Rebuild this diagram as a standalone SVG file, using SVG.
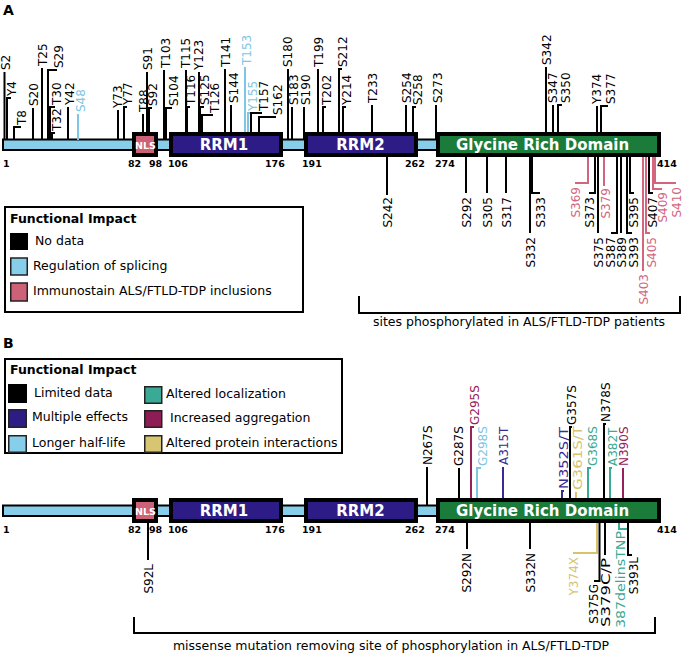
<svg xmlns="http://www.w3.org/2000/svg" width="688" height="654" viewBox="0 0 688 654">
<style>
text{font-family:"DejaVu Sans",Verdana,"Liberation Sans",sans-serif}
.s{font-size:12px}
.e{text-anchor:end}
.num{font-size:9.5px;font-weight:bold;fill:#000}
.dom{font-size:15px;font-weight:bold;fill:#fff;text-anchor:middle}
.nls{font-size:9.5px;font-weight:bold;fill:#fff;text-anchor:middle}
.lg{font-size:12.5px;fill:#000}
.lgt{font-size:12.5px;font-weight:bold;fill:#000}
.pan{font-size:14px;font-weight:bold;fill:#000}
.l{fill:none;stroke-width:2}
.lk{stroke:#000}.tk{fill:#000}
.lb{stroke:#7dc6e4}.tb{fill:#7dc6e4}
.lp{stroke:#d3667e}.tp{fill:#d3667e}
.lt{stroke:#3aa995}.tt{fill:#3aa995}
.lm{stroke:#962259}.tm{fill:#962259}
.ly{stroke:#d5c46c}.ty{fill:#d5c46c}
.ld{stroke:#3a2b90}.td{fill:#3a2b90}
.bar{fill:#87ceeb;stroke:#000;stroke-width:2}
.box{stroke:#000;stroke-width:4}
.sw{stroke:#222;stroke-width:1.5}
</style>
<rect width="688" height="654" fill="#fff"/>
<text class="pan" x="3" y="15">A</text>
<text class="pan" x="3" y="348">B</text>

<!-- Panel A protein -->
<g id="A-bar"><rect class="bar" x="3" y="139.5" width="436" height="10.5"/></g>

<g id="connectors">
<!-- A top -->
<path class="l lk" d="M4.5,140V72"/>
<path class="l lk" d="M7,140V98H11"/>
<path class="l lk" d="M14,140V127H21"/>
<path class="l lk" d="M33,140V108"/>
<path class="l lk" d="M42,140V68"/>
<path class="l lk" d="M48,140V70H57"/>
<path class="l lk" d="M50,140V107H55"/>
<path class="l lk" d="M52,140V133H55"/>
<path class="l lk" d="M68,140V107"/>
<path class="l lb" d="M78,140V114"/>
<path class="l lk" d="M118,140V110"/>
<path class="l lk" d="M124,140V107H127"/>
<path class="l lk" d="M143,140V114"/>
<path class="l lk" d="M147,140V72"/>
<path class="l lk" d="M149,140V108H152"/>
<path class="l lk" d="M164,140V70"/>
<path class="l lk" d="M166,140V108H172"/>
<path class="l lk" d="M186,140V70"/>
<path class="l lk" d="M187,140V107H190"/>
<path class="l lk" d="M199,140V72"/>
<path class="l lk" d="M200,140V107H204"/>
<path class="l lk" d="M202,140V115H213"/>
<path class="l lk" d="M225,140V69"/>
<path class="l lk" d="M231,140V105"/>
<path class="l lb" d="M245,140V67"/>
<path class="l lb" d="M248,140V113H251"/>
<path class="l lk" d="M251,140V113H262"/>
<path class="l lk" d="M259,140V117H276"/>
<path class="l lk" d="M288,140V69"/>
<path class="l lk" d="M292,140V107"/>
<path class="l lk" d="M304,140V107"/>
<path class="l lk" d="M318,140V69"/>
<path class="l lk" d="M323,140V107H326"/>
<path class="l lk" d="M339,140V69H342"/>
<path class="l lk" d="M343,140V107H346"/>
<path class="l lk" d="M372,140V105"/>
<path class="l lk" d="M406,140V105"/>
<path class="l lk" d="M413,140V107H416"/>
<path class="l lk" d="M436,140V105"/>
<path class="l lk" d="M546,140V67"/>
<path class="l lk" d="M553,140V105"/>
<path class="l lk" d="M558,140V105H562"/>
<path class="l lk" d="M597,140V106"/>
<path class="l lk" d="M601,140V106H608"/>
<!-- A bottom -->
<path class="l lk" d="M387,150V195"/>
<path class="l lk" d="M466,150V193"/>
<path class="l lk" d="M487,150V193"/>
<path class="l lk" d="M506,150V193"/>
<path class="l lk" d="M530,150V233"/>
<path class="l lk" d="M532,150V193H540"/>
<path class="l lp" d="M588,150V183H575"/>
<path class="l lk" d="M595,150V193H589"/>
<path class="l lk" d="M598,150V233"/>
<path class="l lp" d="M604,150V186"/>
<path class="l lk" d="M617,150V233H611"/>
<path class="l lk" d="M621,150V233"/>
<path class="l lk" d="M627,150V233H632"/>
<path class="l lk" d="M630,150V193H634"/>
<path class="l lp" d="M643,150V271"/>
<path class="l lp" d="M646,150V233H650"/>
<path class="l lk" d="M649,150V193H653"/>
<path class="l lp" d="M653,150V189H662"/>
<path class="l lp" d="M655,150V183H676"/>
<!-- B top -->
<path class="l lk" d="M427,506V467"/>
<path class="l lk" d="M459,506V468"/>
<path class="l lm" d="M471,506V427H474"/>
<path class="l lb" d="M477,506V468H481"/>
<path class="l ld" d="M503,506V467"/>
<path class="l ld" d="M562,506V491H564"/>
<path class="l lk" d="M570,506V427H572"/>
<path class="l ly" d="M576,506V492"/>
<path class="l lt" d="M588,506V468H591"/>
<path class="l lk" d="M604,506V424H606"/>
<path class="l lt" d="M610,506V468H612"/>
<path class="l lm" d="M623,506V468"/>
<!-- B bottom -->
<path class="l lk" d="M148,516V560"/>
<path class="l lk" d="M467,516V549"/>
<path class="l lk" d="M530,516V549"/>
<path class="l ly" d="M597,516V553H573"/>
<path class="l lk" d="M599.5,516V581H594"/>
<path class="l lk" d="M605,516V555"/>
<path class="l lt" d="M619,516V529H629"/>
<path class="l lk" d="M628,516V555H632"/>
</g>

<g id="A-NLS"><rect class="box" x="134" y="134" width="22" height="21" fill="#cd6178"/><text class="nls" x="145.5" y="148.5">NLS</text></g>
<g id="A-RRM1"><rect class="box" x="171" y="134" width="110" height="21" fill="#2e1c86"/><text class="dom" x="224" y="150">RRM1</text></g>
<g id="A-RRM2"><rect class="box" x="306" y="134" width="110" height="21" fill="#2e1c86"/><text class="dom" x="360.5" y="150">RRM2</text></g>
<g id="A-GRD"><rect class="box" x="438" y="134" width="221" height="21" fill="#1b7b3a"/><text class="dom" x="542.5" y="150">Glycine Rich Domain</text></g>

<g id="A-numbers">
<text class="num" x="3" y="167">1</text>
<text class="num" x="128" y="167">82</text>
<text class="num" x="149" y="167">98</text>
<text class="num" x="168" y="167">106</text>
<text class="num" x="265" y="167">176</text>
<text class="num" x="302" y="167">191</text>
<text class="num" x="405" y="167">262</text>
<text class="num" x="435" y="167">274</text>
<text class="num" x="657" y="167">414</text>
</g>

<g id="A-sites-top" class="s">
<g id="sA-S2"><text class="tk" transform="translate(9.5,70) rotate(-90)">S2</text></g>
<g id="sA-Y4"><text class="tk" transform="translate(15.5,96) rotate(-90)">Y4</text></g>
<g id="sA-T8"><text class="tk" transform="translate(25.5,125) rotate(-90)">T8</text></g>
<g id="sA-S20"><text class="tk" transform="translate(37.5,106) rotate(-90)">S20</text></g>
<g id="sA-T25"><text class="tk" transform="translate(46.5,66) rotate(-90)">T25</text></g>
<g id="sA-S29"><text class="tk" transform="translate(62.5,68) rotate(-90)">S29</text></g>
<g id="sA-T30"><text class="tk" transform="translate(60.5,105) rotate(-90)">T30</text></g>
<g id="sA-T32"><text class="tk" transform="translate(60.5,131) rotate(-90)">T32</text></g>
<g id="sA-Y42"><text class="tk" transform="translate(73.5,105) rotate(-90)">Y42</text></g>
<g id="sA-S48"><text class="tb" transform="translate(84.5,112) rotate(-90)">S48</text></g>
<g id="sA-Y73"><text class="tk" transform="translate(121.5,108) rotate(-90)">Y73</text></g>
<g id="sA-Y77"><text class="tk" transform="translate(131.5,105) rotate(-90)">Y77</text></g>
<g id="sA-T88"><text class="tk" transform="translate(147.5,112) rotate(-90)">T88</text></g>
<g id="sA-S91"><text class="tk" transform="translate(151.5,70) rotate(-90)">S91</text></g>
<g id="sA-S92"><text class="tk" transform="translate(156.5,106) rotate(-90)">S92</text></g>
<g id="sA-T103"><text class="tk" transform="translate(169.5,68) rotate(-90)">T103</text></g>
<g id="sA-S104"><text class="tk" transform="translate(177.5,106) rotate(-90)">S104</text></g>
<g id="sA-T115"><text class="tk" transform="translate(189.5,68) rotate(-90)">T115</text></g>
<g id="sA-T116"><text class="tk" transform="translate(194.5,105) rotate(-90)">T116</text></g>
<g id="sA-Y123"><text class="tk" transform="translate(202.5,70) rotate(-90)">Y123</text></g>
<g id="sA-S125"><text class="tk" transform="translate(208.5,105) rotate(-90)">S125</text></g>
<g id="sA-T126"><text class="tk" transform="translate(218.5,113) rotate(-90)">T126</text></g>
<g id="sA-T141"><text class="tk" transform="translate(229.5,67) rotate(-90)">T141</text></g>
<g id="sA-S144"><text class="tk" transform="translate(237.5,103) rotate(-90)">S144</text></g>
<g id="sA-T153"><text class="tb" transform="translate(250.5,65) rotate(-90)">T153</text></g>
<g id="sA-Y155"><text class="tb" transform="translate(256.5,111) rotate(-90)">Y155</text></g>
<g id="sA-T157"><text class="tk" transform="translate(267.5,111) rotate(-90)">T157</text></g>
<g id="sA-S162"><text class="tk" transform="translate(281.5,115) rotate(-90)">S162</text></g>
<g id="sA-S180"><text class="tk" transform="translate(291.5,67) rotate(-90)">S180</text></g>
<g id="sA-S183"><text class="tk" transform="translate(297.5,105) rotate(-90)">S183</text></g>
<g id="sA-S190"><text class="tk" transform="translate(309.5,105) rotate(-90)">S190</text></g>
<g id="sA-T199"><text class="tk" transform="translate(322.5,67) rotate(-90)">T199</text></g>
<g id="sA-T202"><text class="tk" transform="translate(330.5,105) rotate(-90)">T202</text></g>
<g id="sA-S212"><text class="tk" transform="translate(346.5,67) rotate(-90)">S212</text></g>
<g id="sA-Y214"><text class="tk" transform="translate(350.5,105) rotate(-90)">Y214</text></g>
<g id="sA-T233"><text class="tk" transform="translate(376.5,103) rotate(-90)">T233</text></g>
<g id="sA-S254"><text class="tk" transform="translate(410.5,103) rotate(-90)">S254</text></g>
<g id="sA-S258"><text class="tk" transform="translate(421.5,105) rotate(-90)">S258</text></g>
<g id="sA-S273"><text class="tk" transform="translate(441.5,103) rotate(-90)">S273</text></g>
<g id="sA-S342"><text class="tk" transform="translate(550.5,65) rotate(-90)">S342</text></g>
<g id="sA-S347"><text class="tk" transform="translate(556.5,103) rotate(-90)">S347</text></g>
<g id="sA-S350"><text class="tk" transform="translate(569.5,103) rotate(-90)">S350</text></g>
<g id="sA-Y374"><text class="tk" transform="translate(600.5,104) rotate(-90)">Y374</text></g>
<g id="sA-S377"><text class="tk" transform="translate(614.5,104) rotate(-90)">S377</text></g>
</g>

<g id="A-sites-bottom" class="s e">
<g id="sA-S242"><text class="tk" transform="translate(391.5,197) rotate(-90)">S242</text></g>
<g id="sA-S292"><text class="tk" transform="translate(470.5,197) rotate(-90)">S292</text></g>
<g id="sA-S305"><text class="tk" transform="translate(491.5,197) rotate(-90)">S305</text></g>
<g id="sA-S317"><text class="tk" transform="translate(510.5,197) rotate(-90)">S317</text></g>
<g id="sA-S332"><text class="tk" transform="translate(534.5,237) rotate(-90)">S332</text></g>
<g id="sA-S333"><text class="tk" transform="translate(544.5,197) rotate(-90)">S333</text></g>
<g id="sA-S369"><text class="tp" transform="translate(579.5,187) rotate(-90)">S369</text></g>
<g id="sA-S373"><text class="tk" transform="translate(593.5,197) rotate(-90)">S373</text></g>
<g id="sA-S375"><text class="tk" transform="translate(602.5,237) rotate(-90)">S375</text></g>
<g id="sA-S379"><text class="tp" transform="translate(609.5,188) rotate(-90)">S379</text></g>
<g id="sA-S387"><text class="tk" transform="translate(614.5,237) rotate(-90)">S387</text></g>
<g id="sA-S389"><text class="tk" transform="translate(625.5,237) rotate(-90)">S389</text></g>
<g id="sA-S393"><text class="tk" transform="translate(637.5,237) rotate(-90)">S393</text></g>
<g id="sA-S395"><text class="tk" transform="translate(637.5,197) rotate(-90)">S395</text></g>
<g id="sA-S403"><text class="tp" transform="translate(647.5,274) rotate(-90)">S403</text></g>
<g id="sA-S405"><text class="tp" transform="translate(655.5,237) rotate(-90)">S405</text></g>
<g id="sA-S407"><text class="tk" transform="translate(656.5,197) rotate(-90)">S407</text></g>
<g id="sA-S409"><text class="tp" transform="translate(666.5,192) rotate(-90)">S409</text></g>
<g id="sA-S410"><text class="tp" transform="translate(680.5,187) rotate(-90)">S410</text></g>
</g>

<g id="A-bracket">
<path class="l lk" d="M359,296V313H680V296"/>
<text class="lg" x="519" y="326" text-anchor="middle">sites phosphorylated in ALS/FTLD-TDP patients</text>
</g>

<g id="A-legend">
<rect x="5" y="207" width="298" height="105" fill="#fff" stroke="#000" stroke-width="2"/>
<text class="lgt" x="10" y="223">Functional Impact</text>
<rect x="10" y="233" width="18" height="17" fill="#000"/>
<text class="lg" x="35" y="245">No data</text>
<rect class="sw" x="10.75" y="258" width="16.5" height="17" fill="#87ceeb"/>
<text class="lg" x="33" y="270">Regulation of splicing</text>
<rect class="sw" x="10.75" y="283" width="16.5" height="18" fill="#cd6178"/>
<text class="lg" x="33" y="295">Immunostain ALS/FTLD-TDP inclusions</text>
</g>

<g id="B-legend">
<rect x="5" y="359" width="337" height="94" fill="#fff" stroke="#000" stroke-width="2"/>
<text class="lgt" x="10" y="374">Functional Impact</text>
<rect x="8" y="384" width="19" height="19" fill="#000"/>
<text class="lg" x="34" y="397">Limited data</text>
<rect class="sw" x="144.75" y="386.75" width="17" height="16.5" fill="#3aa995"/>
<text class="lg" x="166" y="398">Altered localization</text>
<rect class="sw" x="8.75" y="409.75" width="17.5" height="17.5" fill="#2e1c86"/>
<text class="lg" x="32" y="421">Multiple effects</text>
<rect class="sw" x="144.75" y="410.75" width="17" height="16.5" fill="#8e1c55"/>
<text class="lg" x="170" y="422">Increased aggregation</text>
<rect class="sw" x="8.75" y="435.75" width="17.5" height="16.5" fill="#87ceeb"/>
<text class="lg" x="32" y="447">Longer half-life</text>
<rect class="sw" x="144.75" y="435.75" width="17" height="16.5" fill="#d8c572"/>
<text class="lg" x="166" y="447">Altered protein interactions</text>
</g>

<!-- Panel B protein -->
<g id="B-bar"><rect class="bar" x="3" y="505.5" width="436" height="10.5"/></g>
<g id="B-NLS"><rect class="box" x="134" y="500" width="22" height="21" fill="#cd6178"/><text class="nls" x="145.5" y="514.5">NLS</text></g>
<g id="B-RRM1"><rect class="box" x="171" y="500" width="110" height="21" fill="#2e1c86"/><text class="dom" x="224" y="516">RRM1</text></g>
<g id="B-RRM2"><rect class="box" x="306" y="500" width="110" height="21" fill="#2e1c86"/><text class="dom" x="360.5" y="516">RRM2</text></g>
<g id="B-GRD"><rect class="box" x="438" y="500" width="221" height="21" fill="#1b7b3a"/><text class="dom" x="542.5" y="516">Glycine Rich Domain</text></g>

<g id="B-numbers">
<text class="num" x="3" y="533">1</text>
<text class="num" x="128" y="533">82</text>
<text class="num" x="149" y="533">98</text>
<text class="num" x="168" y="533">106</text>
<text class="num" x="265" y="533">176</text>
<text class="num" x="302" y="533">191</text>
<text class="num" x="405" y="533">262</text>
<text class="num" x="435" y="533">274</text>
<text class="num" x="657" y="533">414</text>
</g>

<g id="B-sites-top" class="s">
<g id="sB-N267S"><text class="tk" transform="translate(431.5,465) rotate(-90)">N267S</text></g>
<g id="sB-G287S"><text class="tk" transform="translate(462.5,466) rotate(-90)">G287S</text></g>
<g id="sB-G295S"><text class="tm" transform="translate(478.5,425) rotate(-90)">G295S</text></g>
<g id="sB-G298S"><text class="tb" transform="translate(486.5,466) rotate(-90)">G298S</text></g>
<g id="sB-A315T"><text class="td" transform="translate(507.5,465) rotate(-90)">A315T</text></g>
<g id="sB-N352ST"><text class="td" transform="translate(567.5,489) rotate(-90)" textLength="62" lengthAdjust="spacingAndGlyphs">N352S/T</text></g>
<g id="sB-G357S"><text class="tk" transform="translate(575.5,425) rotate(-90)">G357S</text></g>
<g id="sB-G361ST"><text class="ty" transform="translate(581.5,490) rotate(-90)" textLength="64" lengthAdjust="spacingAndGlyphs">G361S/T</text></g>
<g id="sB-G368S"><text class="tt" transform="translate(596.5,466) rotate(-90)">G368S</text></g>
<g id="sB-N378S"><text class="tk" transform="translate(609.5,422) rotate(-90)">N378S</text></g>
<g id="sB-A382T"><text class="tt" transform="translate(616.5,466) rotate(-90)">A382T</text></g>
<g id="sB-N390S"><text class="tm" transform="translate(627.5,466) rotate(-90)">N390S</text></g>
</g>

<g id="B-sites-bottom" class="s e">
<g id="sB-S92L"><text class="tk" transform="translate(152.5,564) rotate(-90)">S92L</text></g>
<g id="sB-S292N"><text class="tk" transform="translate(470.5,553) rotate(-90)">S292N</text></g>
<g id="sB-S332N"><text class="tk" transform="translate(534.5,553) rotate(-90)">S332N</text></g>
<g id="sB-Y374X"><text class="ty" transform="translate(577.5,557) rotate(-90)">Y374X</text></g>
<g id="sB-S375G"><text class="tk" transform="translate(597.5,584) rotate(-90)">S375G</text></g>
<g id="sB-S379CP"><text class="tk" transform="translate(609.5,558) rotate(-90)" textLength="69" lengthAdjust="spacingAndGlyphs">S379C/P</text></g>
<g id="sB-387delinsTNP"><text class="tt" transform="translate(624.5,531) rotate(-90)" textLength="97" lengthAdjust="spacingAndGlyphs">387delinsTNP</text></g>
<g id="sB-S393L"><text class="tk" transform="translate(637.5,557) rotate(-90)">S393L</text></g>
</g>

<g id="B-bracket">
<path class="l lk" d="M134,617V633H655V617"/>
<text class="lg" x="391" y="650" text-anchor="middle">missense mutation removing site of phosphorylation in ALS/FTLD-TDP</text>
</g>
</svg>
